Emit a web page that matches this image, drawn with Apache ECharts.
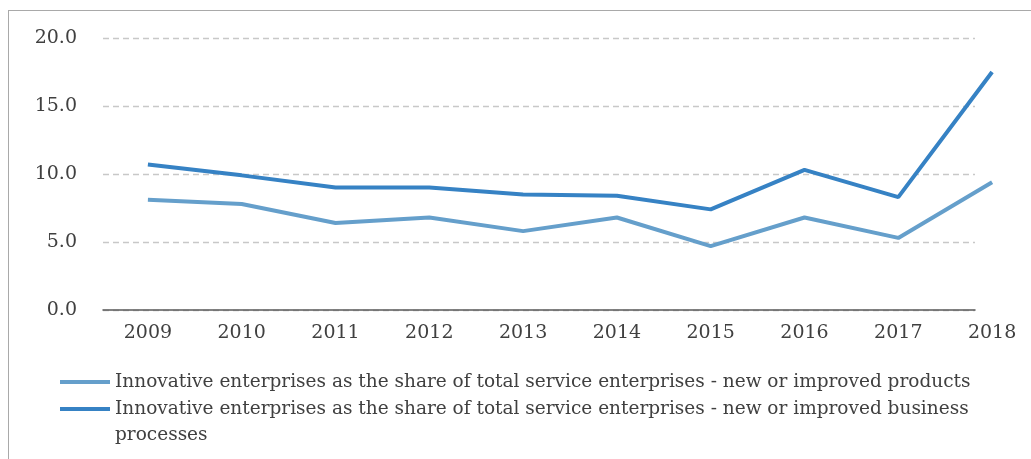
<!DOCTYPE html>
<html>
<head>
<meta charset="utf-8">
<script src="https://cdn.jsdelivr.net/npm/echarts@6/dist/echarts.min.js"></script>
<style>
  html, body { margin: 0; padding: 0; background: #ffffff; overflow: hidden; width: 1031px; height: 459px; }
  #frame {
    position: absolute; left: 8px; top: 10px; width: 1023px; height: 449px;
    border-left: 1.5px solid #a9a9a9; border-top: 1.5px solid #a9a9a9;
    box-sizing: border-box;
  }
  /* canvas runs a little past the right edge so the last category band can overhang */
  #chart { position: absolute; left: 0; top: 0; width: 1045px; height: 459px; }
</style>
</head>
<body>
<div id="frame"></div>
<div id="chart"></div>
<script>
// Share of innovative service enterprises, per cent
const years = ['2009', '2010', '2011', '2012', '2013', '2014', '2015', '2016', '2017', '2018'];
const productsShare = [8.1, 7.8, 6.4, 6.8, 5.8, 6.8, 4.7, 6.8, 5.3, 9.4];
const processesShare = [10.7, 9.9, 9.0, 9.0, 8.5, 8.4, 7.4, 10.3, 8.3, 17.5];
const yTicks = [0, 5, 10, 15, 20];

const nameProducts = 'Innovative enterprises as the share of total service enterprises - new or improved products';
const nameProcesses = 'Innovative enterprises as the share of total service enterprises - new or improved business processes';

const FONT = 'DejaVu Serif';
const TEXT = '#404040';
const LIGHT = '#659fcb';
const DARK = '#3682c4';

const chart = echarts.init(document.getElementById('chart'), null, { renderer: 'canvas' });

const legendText = { fontFamily: FONT, fontSize: 18.5, color: TEXT, lineHeight: 26 };

chart.setOption({
  animation: false,
  grid: [
    // data grid: category bands
    { left: 101, right: 6, top: 38, bottom: 149 },
    // frame grid: axis line, dashed gridlines and value labels
    { left: 103, right: 70, top: 38, bottom: 149 }
  ],
  xAxis: [
    {
      gridIndex: 0, type: 'category', data: years, boundaryGap: true,
      axisLine: { show: false }, axisTick: { show: false },
      axisLabel: { fontFamily: FONT, fontSize: 19, color: TEXT, margin: 14 },
      splitLine: { show: false }
    },
    {
      gridIndex: 1, type: 'value', min: 0, max: 1,
      axisLine: { show: true, lineStyle: { color: '#595959', width: 1.5 } },
      axisTick: { show: false }, axisLabel: { show: false }, splitLine: { show: false }
    }
  ],
  yAxis: [
    {
      gridIndex: 0, type: 'value', min: yTicks[0], max: yTicks[yTicks.length - 1], interval: 5,
      show: false
    },
    {
      gridIndex: 1, type: 'value', min: yTicks[0], max: yTicks[yTicks.length - 1], interval: 5,
      axisLine: { show: false }, axisTick: { show: false },
      axisLabel: {
        fontFamily: FONT, fontSize: 19, color: TEXT, margin: 26,
        formatter: v => v.toFixed(1)
      },
      splitLine: { show: true, lineStyle: { color: '#c8c8c8', type: [6, 4], width: 1.3 } }
    }
  ],
  legend: [
    {
      data: [nameProducts], left: 60, top: 369, padding: 0,
      icon: 'rect', itemWidth: 50, itemHeight: 4, itemGap: 0,
      textStyle: legendText
    },
    {
      // leading blank line keeps the key aligned with the first wrapped line
      data: [nameProcesses], left: 60, top: 370, padding: 0,
      icon: 'rect', itemWidth: 50, itemHeight: 4, itemGap: 0,
      formatter: name => '\n' + name,
      textStyle: Object.assign({}, legendText, { width: 880, overflow: 'break' })
    }
  ],
  series: [
    {
      name: nameProducts, type: 'line', data: productsShare,
      xAxisIndex: 0, yAxisIndex: 0,
      symbol: 'none', color: LIGHT,
      lineStyle: { width: 4, color: LIGHT }
    },
    {
      name: nameProcesses, type: 'line', data: processesShare,
      xAxisIndex: 0, yAxisIndex: 0,
      symbol: 'none', color: DARK,
      lineStyle: { width: 4, color: DARK }
    }
  ]
});
</script>
</body>
</html>
